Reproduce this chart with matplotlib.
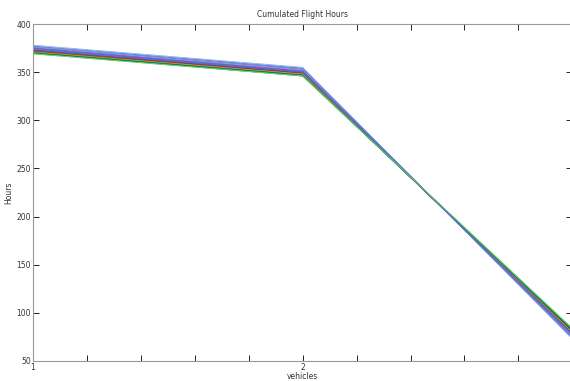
import matplotlib
matplotlib.use("Agg")
import matplotlib.pyplot as plt

x_positions = [1, 2, 3]
start_hours = [378, 377, 376, 376, 375, 375, 374, 374, 373, 373, 373, 372, 372, 372, 371,
               371, 371, 370, 370, 370, 369, 374, 376, 372, 371, 373, 370, 375, 377, 369]
mid_hours = [355, 354, 353, 352, 351, 352, 351, 350, 350, 349, 349, 349, 348, 348, 348,
             347, 347, 347, 346, 346, 346, 350, 353, 349, 348, 350, 347, 351, 354, 346]
end_hours = [73, 74, 75, 76, 77, 76, 77, 78, 78, 79, 79, 80, 80, 81, 80,
             81, 82, 82, 83, 83, 84, 78, 75, 79, 80, 78, 82, 77, 74, 84]
line_colors = ["#8fa8e0", "#a8c8f0", "#3355cc", "#b0d0f0", "#4a78d0", "#c060c0", "#00a0a0",
               "#2020d0", "#60b0e0", "#c0c040", "#803080", "#0000ff", "#a040a0", "#ff0000",
               "#40b0b0", "#202020", "#00a000", "#d000d0", "#40c040", "#008000", "#90e090",
               "#30a0d0", "#7090e0", "#d03030", "#b0b000", "#4060d0", "#008080", "#9050c0",
               "#5080e0", "#60d060"]
title = "Cumulated Flight Hours"
xlabel = "vehicles"
ylabel = "Hours"
yticks = [50, 100, 150, 200, 250, 300, 350, 400]

fig = plt.figure(figsize=(5.70, 3.81), dpi=100)
ax = fig.add_axes([0.058, 0.0525, 0.946, 0.8845])

for s, m, e, c in zip(start_hours, mid_hours, end_hours, line_colors):
    ax.plot(x_positions, [s, m, e], color=c, lw=0.6)

ax.set_xlim(1, 3)
ax.set_ylim(50, 400)
xt = [1 + 0.2 * i for i in range(11)]
ax.set_xticks(xt)
ax.set_xticklabels(["1" if abs(v - 1) < 1e-9 else ("2" if abs(v - 2) < 1e-9 else "") for v in xt])
ax.set_yticks(yticks)
ax.tick_params(direction="in", top=True, right=True, length=4, width=0.7,
               labelsize=5.5, labelcolor="#333333", color="#222222", pad=1.5)
for sp in ax.spines.values():
    sp.set_color("#999999")
    sp.set_linewidth(0.8)
ax.set_title(title, fontsize=5.5, color="#333333", pad=5)
ax.set_xlabel(xlabel, fontsize=5.5, color="#333333", labelpad=0)
ax.set_ylabel(ylabel, fontsize=5.5, color="#333333", labelpad=2)

fig.savefig("out.png", dpi=100)
